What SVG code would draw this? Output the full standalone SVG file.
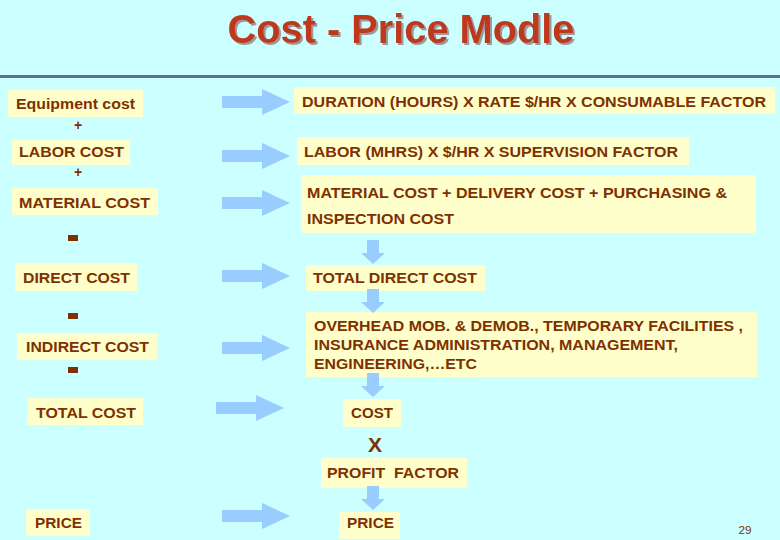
<svg xmlns="http://www.w3.org/2000/svg" width="780" height="540" viewBox="0 0 780 540">
<style>
.bg{fill:#CCFFFF}
.box{fill:#FFFFCC}
.t{font-family:"Liberation Sans",Arial,sans-serif;font-weight:bold;font-size:14px;fill:#7F3000}
.op{fill:#7F3000}
.arr{fill:#99CCFF}
.title{font-family:"Liberation Sans",Arial,sans-serif;font-weight:bold;font-size:40px;fill:#C0391B}
</style>
<defs>
<filter id="shadow" x="-5%" y="-20%" width="110%" height="140%">
<feOffset in="SourceAlpha" dx="2" dy="2" result="o"/>
<feFlood flood-color="#9A9A9A"/>
<feComposite in2="o" operator="in" result="s"/>
<feMerge><feMergeNode in="s"/><feMergeNode in="SourceGraphic"/></feMerge>
</filter>
<path id="ra" d="M0,-6 H40 V-13 L68,0 L40,13 V6 H0 Z"/>
<path id="da" d="M-6,0 H6 V13 H12 L0,24 L-12,13 H-6 Z"/>
</defs>
<rect class="bg" x="0" y="0" width="780" height="540"/>
<g id="title">
<text class="title" x="401" y="43" text-anchor="middle" filter="url(#shadow)" textLength="347" lengthAdjust="spacingAndGlyphs">Cost - Price Modle</text>
</g>
<rect x="0" y="75" width="780" height="3" fill="#5B6E96"/>

<g id="equipment"><rect class="box" x="8" y="90" width="135" height="27"/><text class="t" x="16" y="109" textLength="119" lengthAdjust="spacingAndGlyphs">Equipment cost</text></g>
<g id="plus1"><text class="t" x="78" y="130" text-anchor="middle">+</text></g>
<g id="labor"><rect class="box" x="12" y="140" width="118" height="25"/><text class="t" x="19" y="157" textLength="105" lengthAdjust="spacingAndGlyphs">LABOR COST</text></g>
<g id="plus2"><text class="t" x="78" y="177" text-anchor="middle">+</text></g>
<g id="material"><rect class="box" x="12" y="188" width="146" height="27"/><text class="t" x="19" y="208" textLength="131" lengthAdjust="spacingAndGlyphs">MATERIAL COST</text></g>
<g id="minus1"><rect class="op" x="68" y="235" width="10" height="6"/></g>
<g id="direct"><rect class="box" x="15" y="263" width="122" height="28"/><text class="t" x="23" y="283" textLength="107" lengthAdjust="spacingAndGlyphs">DIRECT COST</text></g>
<g id="minus2"><rect class="op" x="68" y="313" width="10" height="6"/></g>
<g id="indirect"><rect class="box" x="17" y="333" width="140" height="27"/><text class="t" x="26" y="352" textLength="123" lengthAdjust="spacingAndGlyphs">INDIRECT COST</text></g>
<g id="minus3"><rect class="op" x="68" y="367" width="10" height="6"/></g>
<g id="total"><rect class="box" x="27" y="398" width="116" height="27"/><text class="t" x="36" y="418" textLength="100" lengthAdjust="spacingAndGlyphs">TOTAL COST</text></g>
<g id="price-left"><rect class="box" x="26" y="509" width="64" height="27"/><text class="t" x="35" y="528" textLength="47" lengthAdjust="spacingAndGlyphs">PRICE</text></g>

<g id="duration"><rect class="box" x="294" y="87" width="481" height="27"/><text class="t" x="302" y="107" textLength="464" lengthAdjust="spacingAndGlyphs">DURATION (HOURS) X RATE $/HR X CONSUMABLE FACTOR</text></g>
<g id="labor-formula"><rect class="box" x="297" y="137" width="392" height="28"/><text class="t" x="304" y="157" textLength="374" lengthAdjust="spacingAndGlyphs">LABOR (MHRS) X $/HR X SUPERVISION FACTOR</text></g>
<g id="material-formula"><rect class="box" x="301" y="175" width="455" height="58"/><text class="t" x="307" y="198" textLength="420" lengthAdjust="spacingAndGlyphs">MATERIAL COST + DELIVERY COST + PURCHASING &amp;</text><text class="t" x="307" y="224" textLength="147" lengthAdjust="spacingAndGlyphs">INSPECTION COST</text></g>
<g id="total-direct"><rect class="box" x="306" y="265" width="179" height="26"/><text class="t" x="313" y="283" textLength="164" lengthAdjust="spacingAndGlyphs">TOTAL DIRECT COST</text></g>
<g id="overhead"><rect class="box" x="306" y="312" width="451" height="65"/><text class="t" x="314" y="331" textLength="429" lengthAdjust="spacingAndGlyphs">OVERHEAD MOB. &amp; DEMOB., TEMPORARY FACILITIES ,</text><text class="t" x="314" y="350" textLength="364" lengthAdjust="spacingAndGlyphs">INSURANCE ADMINISTRATION, MANAGEMENT,</text><text class="t" x="314" y="369" textLength="163" lengthAdjust="spacingAndGlyphs">ENGINEERING,…ETC</text></g>
<g id="cost"><rect class="box" x="343" y="399" width="58" height="28"/><text class="t" x="351" y="418" textLength="42" lengthAdjust="spacingAndGlyphs">COST</text></g>
<g id="times"><text class="t" x="375" y="452" text-anchor="middle" style="font-size:21px">X</text></g>
<g id="profit"><rect class="box" x="321" y="458" width="146" height="30"/><text class="t" x="327" y="478" textLength="132" lengthAdjust="spacingAndGlyphs" xml:space="preserve">PROFIT  FACTOR</text></g>
<g id="price-right"><rect class="box" x="339" y="512" width="61" height="27"/><text class="t" x="347" y="528" textLength="47" lengthAdjust="spacingAndGlyphs">PRICE</text></g>

<g id="connectors">
<use href="#ra" class="arr" x="222" y="102"/>
<use href="#ra" class="arr" x="222" y="156"/>
<use href="#ra" class="arr" x="222" y="203"/>
<use href="#ra" class="arr" x="222" y="276"/>
<use href="#ra" class="arr" x="222" y="348"/>
<use href="#ra" class="arr" x="216" y="408"/>
<use href="#ra" class="arr" x="222" y="516"/>
<use href="#da" class="arr" x="373" y="240"/>
<use href="#da" class="arr" x="373" y="289"/>
<use href="#da" class="arr" x="373" y="373"/>
<use href="#da" class="arr" x="373" y="486"/>
</g>
<g id="page-number"><text x="745" y="534" text-anchor="middle" font-family="Liberation Sans, Arial, sans-serif" font-size="11" fill="#7F3000" textLength="13" lengthAdjust="spacingAndGlyphs">29</text></g>
</svg>
